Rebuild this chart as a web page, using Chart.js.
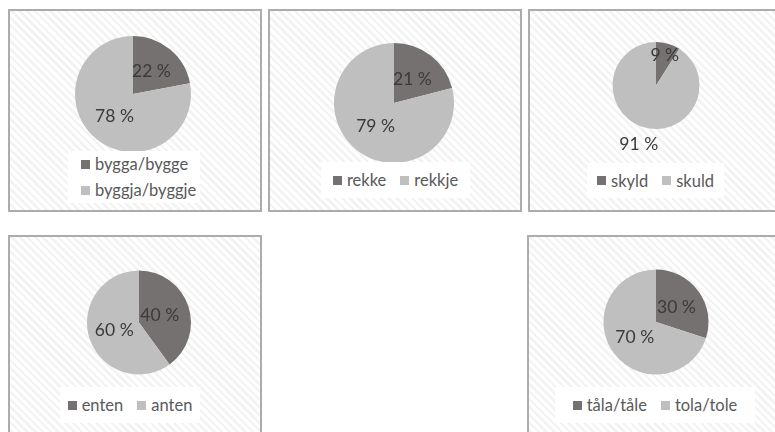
<!DOCTYPE html>
<html>
<head>
<meta charset="utf-8">
<script src="https://cdn.jsdelivr.net/npm/chart.js@4"></script>
<style>
  html, body { margin: 0; padding: 0; background: #fff; }
  body { width: 775px; height: 432px; position: relative; overflow: hidden;
         font-family: Lato, 'Open Sans', sans-serif; }
  .box { position: absolute; box-sizing: border-box; border: 2px solid #acacac;
         background: repeating-linear-gradient(45deg, #fff 0 3px, #f3f3f3 3px 5.5px); }
  .box canvas { position: absolute; left: 0; top: 0; }
  .leg { position: absolute; background: #fff; display: flex; justify-content: center;
         align-items: center; gap: 14px; font-size: 16.5px; color: #595959; }
  .leg.col { flex-direction: column; align-items: flex-start; gap: 6px; padding-left: 13px; box-sizing: border-box; }
  .leg-it { display: flex; align-items: center; gap: 5px; line-height: 20px; }
  .leg-sq { width: 9px; height: 9px; }
</style>
</head>
<body>
<script>
// ── Data ────────────────────────────────────────────────────────────────────
const labels1 = ['bygga/bygge', 'byggja/byggje'];
const values1 = [22, 78];
const labels2 = ['rekke', 'rekkje'];
const values2 = [21, 79];
const labels3 = ['skyld', 'skuld'];
const values3 = [9, 91];
const labels4 = ['enten', 'anten'];
const values4 = [40, 60];
const labels5 = ['tåla/tåle', 'tola/tole'];
const values5 = [30, 70];

const colors = ['#767171', '#c0bfbf'];

// ── Layout (box, pie centre/radius in page px, legend rect) ────────────────
const charts = [
  { labels: labels1, values: values1, box: [8, 9, 254, 203],  pie: [133, 94, 58],
    lab: [0.5, 0.5],   leg: [68, 151, 132, 52], col: true },
  { labels: labels2, values: values2, box: [268, 9, 254, 203], pie: [394, 103, 60],
    lab: [0.5, 0.5],   leg: [321, 162, 149, 36] },
  { labels: labels3, values: values3, box: [528, 9, 254, 203], pie: [656, 85.5, 43.5],
    lab: [0.72, 1.42], leg: [587, 163, 137, 35] },
  { labels: labels4, values: values4, box: [8, 235, 254, 203], pie: [139, 322.5, 52],
    lab: [0.42, 0.5],  leg: [60, 387, 140, 36] },
  { labels: labels5, values: values5, box: [527, 235, 254, 203], pie: [656, 322, 52.5],
    lab: [0.48, 0.5],  leg: [555, 387, 200, 36] },
];

// percentage labels drawn inside/outside the slices
const sliceLabels = {
  id: 'sliceLabels',
  afterDatasetsDraw(chart, args, opts) {
    const { ctx } = chart;
    const meta = chart.getDatasetMeta(0);
    ctx.save();
    ctx.font = '17.5px Lato, "Open Sans", sans-serif';
    ctx.fillStyle = '#3a3a3a';
    ctx.textAlign = 'center';
    ctx.textBaseline = 'middle';
    meta.data.forEach((arc, i) => {
      const mid = (arc.startAngle + arc.endAngle) / 2;
      const rr = arc.outerRadius * opts.radius[i];
      ctx.fillText(chart.data.datasets[0].data[i] + ' %',
        arc.x + Math.cos(mid) * rr, arc.y + Math.sin(mid) * rr);
    });
    ctx.restore();
  }
};

charts.forEach(c => {
  const [bx, by, bw, bh] = c.box;
  const [cx, cy, r] = c.pie;
  const box = document.createElement('div');
  box.className = 'box';
  Object.assign(box.style, { left: bx + 'px', top: by + 'px', width: bw + 'px', height: bh + 'px' });
  const cv = document.createElement('canvas');
  cv.width = bw; cv.height = bh;
  cv.style.width = bw + 'px'; cv.style.height = bh + 'px';
  cv.style.left = '-2px'; cv.style.top = '-2px';
  box.appendChild(cv);
  document.body.appendChild(box);

  const lx = cx - bx, ly = cy - by;
  new Chart(cv, {
    type: 'pie',
    data: { labels: c.labels,
            datasets: [{ data: c.values, backgroundColor: colors, borderWidth: 0 }] },
    options: {
      responsive: false, animation: false,
      layout: { padding: { left: lx - r, top: ly - r, right: bw - lx - r, bottom: bh - ly - r } },
      plugins: { legend: { display: false }, tooltip: { enabled: false },
                 sliceLabels: { radius: c.lab } }
    },
    plugins: [sliceLabels]
  });

  // legend
  const [gx, gy, gw, gh] = c.leg;
  const leg = document.createElement('div');
  leg.className = 'leg' + (c.col ? ' col' : '');
  Object.assign(leg.style, { left: gx + 'px', top: gy + 'px', width: gw + 'px', height: gh + 'px' });
  leg.innerHTML = c.labels.map((l, i) =>
    `<div class="leg-it"><div class="leg-sq" style="background:${colors[i]}"></div>${l}</div>`).join('');
  document.body.appendChild(leg);
});
</script>
</body>
</html>
